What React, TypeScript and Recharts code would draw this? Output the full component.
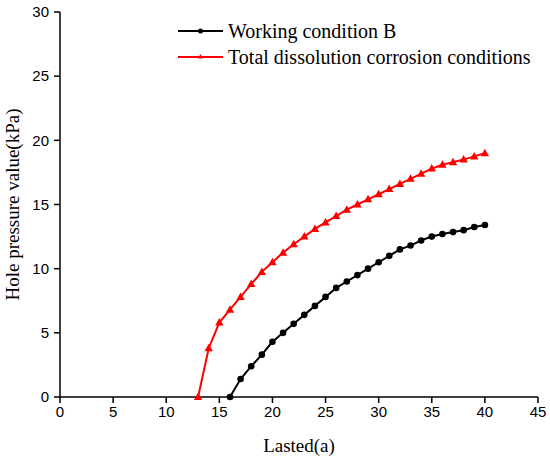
import { LineChart, Line, XAxis, YAxis } from 'recharts';

// years shown on the x axis (a)
const years = [
  13, 14, 15, 16, 17, 18, 19, 20, 21, 22, 23, 24, 25, 26, 27,
  28, 29, 30, 31, 32, 33, 34, 35, 36, 37, 38, 39, 40,
];

// hole pressure (kPa), working condition B — starts at year 16
const conditionB = [
  null, null, null, 0, 1.4, 2.4, 3.3, 4.3, 5.0, 5.7, 6.4, 7.1, 7.8, 8.5, 9.0,
  9.5, 10.0, 10.5, 11.0, 11.5, 11.8, 12.2, 12.5, 12.7, 12.85, 13.0, 13.25, 13.4,
];

// hole pressure (kPa), total dissolution corrosion — starts at year 13
const totalDissolution = [
  0, 3.8, 5.8, 6.8, 7.8, 8.8, 9.75, 10.5, 11.25, 11.9, 12.5, 13.1, 13.6, 14.1, 14.6,
  15.0, 15.4, 15.8, 16.2, 16.6, 17.0, 17.4, 17.8, 18.1, 18.3, 18.5, 18.75, 19.0,
];

const xTicks = [0, 5, 10, 15, 20, 25, 30, 35, 40, 45];
const yTicks = [0, 5, 10, 15, 20, 25, 30];

const seriesNames = ['Working condition B', 'Total dissolution corrosion conditions'];
const seriesColors = ['#000000', '#ff0000'];

const data = years.map((year, i) => ({
  year,
  b: conditionB[i],
  total: totalDissolution[i],
}));

const serif = '"Liberation Serif", "Times New Roman", serif';
const sans = '"Liberation Sans", Arial, sans-serif';

const Triangle = (props: any) => {
  const { cx, cy, index } = props;
  if (cx == null || cy == null) return null;
  return (
    <path
      key={`tri-${index}`}
      d={`M${cx},${cy - 4.5} L${cx + 4.2},${cy + 3} L${cx - 4.2},${cy + 3} Z`}
      fill={seriesColors[1]}
    />
  );
};

// legend drawn on top of the plot, like the original figure
const LegendBox = () => (
  <div
    style={{
      position: 'absolute',
      left: 177,
      top: 18,
      fontFamily: serif,
      fontSize: 20,
      lineHeight: '26px',
    }}
  >
    {seriesNames.map((name, i) => (
      <div key={name} style={{ display: 'flex', alignItems: 'center', whiteSpace: 'nowrap' }}>
        <svg width={51} height={12}>
          <line x1={1} y1={6} x2={46} y2={6} stroke={seriesColors[i]} strokeWidth={2} />
          {i === 0 ? (
            <circle cx={23.5} cy={6} r={2.5} fill={seriesColors[0]} />
          ) : (
            <path d="M23.5,3 L26.1,7.5 L20.9,7.5 Z" fill={seriesColors[1]} />
          )}
        </svg>
        <span>{name}</span>
      </div>
    ))}
  </div>
);

export default function App() {
  return (
    <div style={{ position: 'relative', width: 550, height: 462, background: '#fff' }}>
      <style>{'body{margin:0}'}</style>
      <LineChart
        width={550}
        height={462}
        data={data}
        margin={{ top: 12, right: 12, left: 0, bottom: 0 }}
      >
        <XAxis
          dataKey="year"
          type="number"
          domain={[0, 45]}
          ticks={xTicks}
          interval={0}
          height={65}
          stroke="#000"
          strokeWidth={1.5}
          tickSize={6}
          tickMargin={3}
          tick={{ fill: '#000', fontSize: 15, fontFamily: sans }}
          label={{
            content: ({ viewBox }: any) => (
              <text
                x={viewBox.x + viewBox.width / 2}
                y={viewBox.y + 55}
                textAnchor="middle"
                fontFamily={serif}
                fontSize={19}
                fill="#000"
              >
                Lasted(a)
              </text>
            ),
          }}
        />
        <YAxis
          type="number"
          domain={[0, 30]}
          ticks={yTicks}
          interval={0}
          width={60}
          stroke="#000"
          strokeWidth={1.5}
          tickSize={6}
          tickMargin={5}
          tick={{ fill: '#000', fontSize: 15, fontFamily: sans }}
          label={{
            content: ({ viewBox }: any) => {
              const cx = 15;
              const cy = viewBox.y + viewBox.height / 2;
              return (
                <text
                  x={cx}
                  y={cy}
                  transform={`rotate(-90, ${cx}, ${cy})`}
                  textAnchor="middle"
                  dominantBaseline="middle"
                  fontFamily={serif}
                  fontSize={19}
                  fill="#000"
                >
                  Hole pressure value(kPa)
                </text>
              );
            },
          }}
        />
        <Line
          dataKey="b"
          name={seriesNames[0]}
          type="linear"
          stroke={seriesColors[0]}
          strokeWidth={2}
          dot={{ r: 3.3, fill: seriesColors[0], stroke: 'none' }}
          isAnimationActive={false}
        />
        <Line
          dataKey="total"
          name={seriesNames[1]}
          type="linear"
          stroke={seriesColors[1]}
          strokeWidth={2}
          dot={<Triangle />}
          isAnimationActive={false}
        />
      </LineChart>
      <LegendBox />
    </div>
  );
}
